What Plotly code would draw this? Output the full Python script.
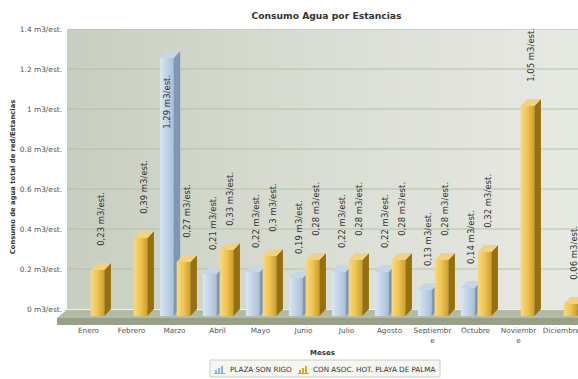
import plotly.graph_objects as go

# ---- data -------------------------------------------------------------
meses = ["Enero", "Febrero", "Marzo", "Abril", "Mayo", "Junio", "Julio",
         "Agosto", "Septiembr<br>e", "Octubre", "Noviembr<br>e", "Diciembre"]
plaza_son_rigo = [None, None, 1.29, 0.21, 0.22, 0.19, 0.22, 0.22, 0.13, 0.14, None, None]
con_asoc_hot = [0.23, 0.39, 0.27, 0.33, 0.30, 0.28, 0.28, 0.28, 0.28, 0.32, 1.05, 0.06]
y_ticks = [0, 0.2, 0.4, 0.6, 0.8, 1.0, 1.2, 1.4]
y_ticktext = ["0 m3/est.", "0.2 m3/est.", "0.4 m3/est.", "0.6 m3/est.",
              "0.8 m3/est.", "1 m3/est.", "1.2 m3/est.", "1.4 m3/est."]

# ---- geometry of the pseudo-3D columns ---------------------------------
X_RANGE = [-0.5, 11.384]
Y_RANGE = [-0.08, 1.4]
DX = 0.152          # depth offset along x (category units)
DY = 0.035          # depth offset along y (value units)
FACE_W = 0.32       # width of the front face
SERIES = [
    dict(name="PLAZA SON RIGO", values=plaza_son_rigo, x0=-0.34,
         front=[[0, "#dae7f4"], [1, "#a9bfd8"]],
         side="#7f97b4", top="#c5d6e9", legend="#8db4de"),
    dict(name="CON ASOC. HOT. PLAYA DE PALMA", values=con_asoc_hot, x0=0.05,
         front=[[0, "#f7da80"], [0.5, "#eec453"], [1, "#d09e2a"]],
         side="#94700f", top="#f1d27e", legend="#e3ab1c"),
]


def fmt(v):
    return f"{v:g}".replace(".", ",") + " m3/est."


fig = go.Figure()

# plot-area background with a soft left-to-right gradient
fig.add_trace(go.Scatter(
    x=[X_RANGE[0], X_RANGE[1], X_RANGE[1], X_RANGE[0], X_RANGE[0]],
    y=[0, 0, Y_RANGE[1], Y_RANGE[1], 0],
    mode="lines", line=dict(width=0), fill="toself",
    fillgradient=dict(type="horizontal",
                      colorscale=[[0, "#c8cec0"], [0.6, "#dde0d7"], [1, "#e7e9e3"]]),
    hoverinfo="skip", showlegend=False))

# horizontal grid lines at each tick value
gx, gy = [], []
for t in y_ticks[1:]:
    gx += [X_RANGE[0], X_RANGE[1], None]
    gy += [t, t, None]
fig.add_trace(go.Scatter(x=gx, y=gy, mode="lines",
                         line=dict(color="#b7c0a6", width=1),
                         hoverinfo="skip", showlegend=False))

annotations = []
for s in SERIES:
    side_x, side_y, top_x, top_y = [], [], [], []
    for i, v in enumerate(s["values"]):
        if v is None:
            continue
        a = i + s["x0"]
        b = a + FACE_W
        # front face
        fig.add_trace(go.Scatter(
            x=[a, b, b, a, a], y=[-DY, -DY, v - DY, v - DY, -DY],
            mode="lines", line=dict(width=0), fill="toself",
            fillgradient=dict(type="horizontal", colorscale=s["front"]),
            name=s["name"], showlegend=False,
            hovertemplate=f"{meses[i]}<br>{fmt(v)}<extra>{s['name']}</extra>"))
        # right side face
        side_x += [b, b + DX, b + DX, b, b, None]
        side_y += [-DY, 0, v, v - DY, -DY, None]
        # top face
        top_x += [a, b, b + DX, a + DX, a, None]
        top_y += [v - DY, v - DY, v, v, v - DY, None]

        # value label
        if v > 1.2:
            annotations.append(dict(
                x=a + FACE_W / 2, y=v, xref="x", yref="y", text=fmt(v),
                textangle=-90, showarrow=False, yanchor="top", yshift=-22,
                font=dict(size=8.5, color="#333333")))
        else:
            annotations.append(dict(
                x=a + (FACE_W + DX) / 2, y=v, xref="x", yref="y", text=fmt(v),
                textangle=-90, showarrow=False, yanchor="bottom", yshift=15,
                font=dict(size=8.5, color="#333333")))

    fig.add_trace(go.Scatter(x=side_x, y=side_y, mode="lines", line=dict(width=0),
                             fill="toself", fillcolor=s["side"],
                             hoverinfo="skip", showlegend=False))
    fig.add_trace(go.Scatter(x=top_x, y=top_y, mode="lines", line=dict(width=0),
                             fill="toself", fillcolor=s["top"],
                             hoverinfo="skip", showlegend=False))

# page layout in pixels, converted to paper units
PL, PW, PT, PH = 67, 511, 29, 296


def px(x):
    return (x - PL) / PW


def py(y):
    return (PT + PH - y) / PH


# floor under the columns
shapes = [
    dict(type="path", xref="paper", yref="paper", layer="below",
         path=f"M {px(67)},{py(309.5)} L 1.05,{py(309.5)} L 1.05,{py(318)} L {px(57)},{py(318)} Z",
         fillcolor="#b3baa5", line=dict(width=0)),
    dict(type="path", xref="paper", yref="paper", layer="below",
         path=f"M {px(57)},{py(318)} L 1.05,{py(318)} L 1.05,{py(325)} L {px(57)},{py(325)} Z",
         fillcolor="#98a08a", line=dict(width=0)),
    dict(type="line", xref="paper", yref="paper", layer="below",
         x0=px(67), x1=1.05, y0=py(309.5), y1=py(309.5),
         line=dict(color="#eef0ea", width=1)),
]

# legend box with a small column-chart glyph per series
shapes.append(dict(type="rect", xref="paper", yref="paper", layer="above",
                   x0=px(210), x1=px(440), y0=py(377), y1=py(360),
                   fillcolor="#f5f6f2", line=dict(color="#c9cdc3", width=1)))
legend_pos = [(214, 228), (298, 311)]
for s, (ix, tx) in zip(SERIES, legend_pos):
    for k, h in enumerate([3, 5, 7]):
        shapes.append(dict(type="rect", xref="paper", yref="paper", layer="above",
                           x0=px(ix + 1 + 3 * k), x1=px(ix + 3 + 3 * k),
                           y0=py(373), y1=py(373 - h),
                           fillcolor=s["legend"], line=dict(width=0)))
    shapes.append(dict(type="line", xref="paper", yref="paper", layer="above",
                       x0=px(ix), x1=px(ix + 11), y0=py(373.5), y1=py(373.5),
                       line=dict(color="#9aa3b0", width=1)))
    annotations.append(dict(x=px(tx), y=py(369), xref="paper", yref="paper",
                            text=s["name"], showarrow=False, xanchor="left",
                            yanchor="middle", font=dict(size=7.2, color="#333333")))

fig.update_layout(
    width=578, height=379,
    margin=dict(l=PL, r=0, t=PT, b=379 - PT - PH, pad=0, autoexpand=False),
    paper_bgcolor="white", plot_bgcolor="rgba(0,0,0,0)",
    font=dict(family="DejaVu Sans, Verdana, sans-serif", color="#555555"),
    title=dict(text="<b>Consumo Agua por Estancias</b>", x=0.5 + 4 / PW, xref="paper",
               xanchor="center", y=1 - 16 / 379, yanchor="middle",
               font=dict(size=9.2, color="#333333")),
    xaxis=dict(range=X_RANGE, tickvals=list(range(12)), ticktext=meses,
               showgrid=False, zeroline=False, showline=False, ticks="",
               automargin=False, ticklabeloverflow="allow",
               tickfont=dict(size=7.3, color="#555555"),
               title=dict(text="<b>Meses</b>", font=dict(size=7, color="#333333"),
                          standoff=6),
               fixedrange=True),
    yaxis=dict(range=Y_RANGE, tickvals=y_ticks, ticktext=y_ticktext,
               showgrid=False, zeroline=False, showline=False, ticks="",
               automargin=False, ticklabelstandoff=4,
               tickfont=dict(size=7.4, color="#555555"),
               title=dict(text="<b>Consumo de agua total de red/Estancias</b>",
                          font=dict(size=6.8, color="#333333"), standoff=3),
               fixedrange=True),
    annotations=annotations,
    shapes=shapes,
    showlegend=False,
)

fig.write_html("out.html")
